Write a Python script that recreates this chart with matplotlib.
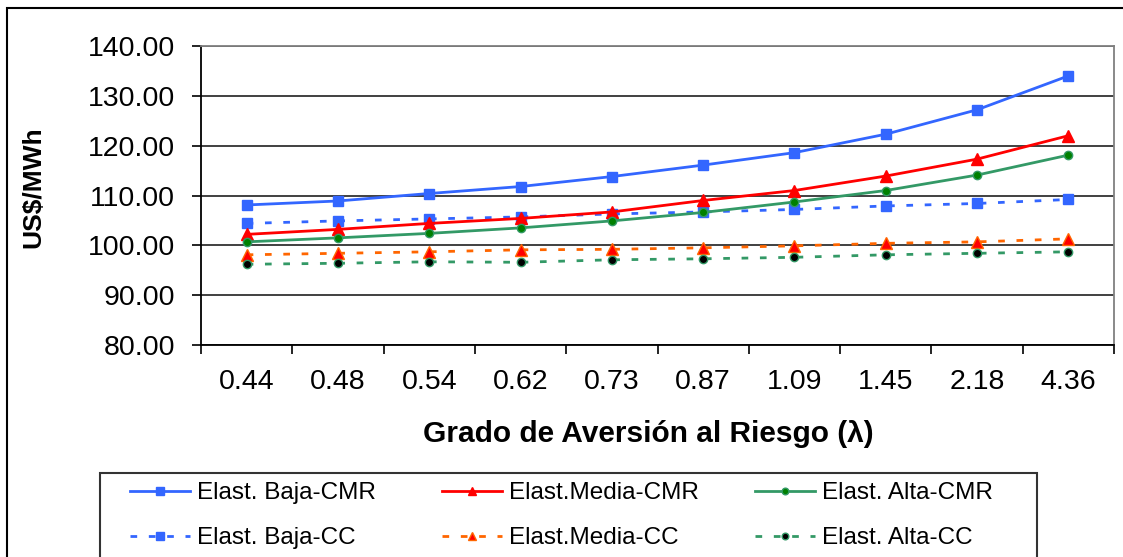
import matplotlib
matplotlib.use("Agg")
import matplotlib.pyplot as plt
from matplotlib.patches import Rectangle
from matplotlib.ticker import FixedLocator, FormatStrFormatter

plt.rcParams['font.family'] = ['Liberation Sans', 'DejaVu Sans']

# ---- data ----
categories = ["0.44", "0.48", "0.54", "0.62", "0.73", "0.87", "1.09", "1.45", "2.18", "4.36"]
baja_cmr = [108.1, 108.9, 110.4, 111.8, 113.8, 116.1, 118.6, 122.3, 127.2, 134.0]
media_cmr = [102.2, 103.2, 104.4, 105.4, 106.7, 109.0, 111.0, 113.9, 117.3, 122.0]
alta_cmr = [100.7, 101.5, 102.4, 103.5, 104.9, 106.6, 108.7, 111.0, 114.1, 118.1]
baja_cc = [104.4, 104.9, 105.3, 105.7, 106.3, 106.7, 107.2, 107.9, 108.4, 109.2]
media_cc = [98.1, 98.4, 98.7, 99.1, 99.2, 99.5, 99.9, 100.4, 100.7, 101.3]
alta_cc = [96.2, 96.4, 96.7, 96.6, 97.1, 97.3, 97.6, 98.1, 98.4, 98.7]
labels = ["Elast. Baja-CMR", "Elast.Media-CMR", "Elast. Alta-CMR",
          "Elast. Baja-CC", "Elast.Media-CC", "Elast. Alta-CC"]
y_ticks = [80, 90, 100, 110, 120, 130, 140]

W, H = 1123, 557
fig = plt.figure(figsize=(W / 100, H / 100), dpi=100)
fig.patch.set_facecolor('white')

def fx(px):
    return px / W

def fy(py):
    return 1 - py / H

ax = fig.add_axes([fx(201), fy(345), fx(1114) - fx(201), fy(46) - fy(345)])
x = list(range(len(categories)))

BLUE = '#3366FF'
RED = '#FF0000'
GREEN = '#339966'
ORANGE = '#FF6600'

lw = 2.0
dash = (0, (2.4, 4.2))
l1, = ax.plot(x, baja_cmr, color=BLUE, lw=lw, marker='s', ms=7, mfc=BLUE, mec=BLUE, zorder=5)
l2, = ax.plot(x, media_cmr, color=RED, lw=lw, marker='^', ms=8, mfc=RED, mec=RED, zorder=5)
l3, = ax.plot(x, alta_cmr, color=GREEN, lw=lw, marker='o', ms=6, mfc='#008000', mec=GREEN, zorder=5)
l4, = ax.plot(x, baja_cc, color=BLUE, lw=lw, ls=dash, marker='s', ms=7, mfc=BLUE, mec=BLUE, zorder=4)
l5, = ax.plot(x, media_cc, color=ORANGE, lw=lw, ls=dash, marker='^', ms=8, mfc=RED, mec=ORANGE, zorder=4)
l6, = ax.plot(x, alta_cc, color=GREEN, lw=lw, ls=dash, marker='o', ms=6, mfc='black', mec=GREEN, zorder=4)

ax.set_xlim(-0.5, len(categories) - 0.5)
ax.set_ylim(80, 140)
ax.set_yticks(y_ticks)
ax.yaxis.set_major_formatter(FormatStrFormatter('%.2f'))
ax.set_xticks(x)
ax.set_xticklabels(categories)
ax.xaxis.set_minor_locator(FixedLocator([i - 0.5 for i in range(len(categories) + 1)]))
ax.tick_params(axis='x', which='major', length=0, pad=17, labelsize=20.5)
ax.tick_params(axis='x', which='minor', length=6.5, width=1.2, direction='out', color='black')
ax.tick_params(axis='y', which='major', length=6.5, width=1.2, direction='out', pad=12, labelsize=20.5)
ax.yaxis.grid(True, color='#202020', lw=1.2)
ax.set_axisbelow(True)
for s in ['left', 'bottom']:
    ax.spines[s].set_color('black')
    ax.spines[s].set_linewidth(1.3)
for s in ['top', 'right']:
    ax.spines[s].set_color('#808080')
    ax.spines[s].set_linewidth(1.3)

fig.text(fx(648), fy(434), "Grado de Aversión al Riesgo (λ)", ha='center', va='center',
         fontsize=21.5, fontweight='bold')
fig.text(fx(33), fy(187), "US$/MWh", ha='center', va='center', rotation=90,
         fontsize=19, fontweight='bold')

# outer frame
fig.patches.append(Rectangle((fx(7), fy(600)), fx(1200), fy(8) - fy(600), transform=fig.transFigure,
                             fill=False, edgecolor='black', lw=1.5))
# legend frame
fig.patches.append(Rectangle((fx(100), fy(600)), fx(1037) - fx(100), fy(473) - fy(600),
                             transform=fig.transFigure, fill=False, edgecolor='#333333', lw=1.5))

handles = [l1, l2, l3, l4, l5, l6]
col_x = [130, 442, 755]
for c in range(3):
    fig.legend([handles[c], handles[c + 3]], [labels[c], labels[c + 3]],
               loc='upper left', bbox_to_anchor=(fx(col_x[c]), fy(482)),
               frameon=False, fontsize=17.5, handlelength=2.45, handletextpad=0.3,
               labelspacing=0.95, borderpad=0, borderaxespad=0, markerscale=0.8)

fig.savefig('out.png', dpi=100)
